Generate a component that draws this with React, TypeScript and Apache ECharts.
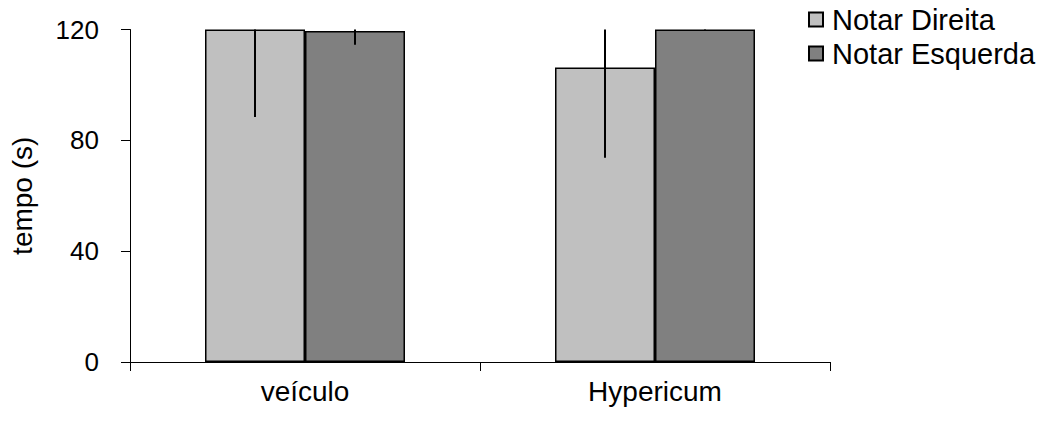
import React, { useEffect, useRef } from "react";
import * as echarts from "echarts";

const categories = ["veículo", "Hypericum"];
const seriesNames = ["Notar Direita", "Notar Esquerda"];
const direitaMeans = [120, 106.3];
const direitaErrors = [31.6, 32.6];
const esquerdaMeans = [119.5, 120];
const esquerdaErrors = [5, 0.4];
const yMin = 0;
const yMax = 120;
const yInterval = 40;

const FONT = "'Liberation Sans', Arial, sans-serif";

export default function App() {
  const ref = useRef<HTMLDivElement>(null);
  useEffect(() => {
    if (!ref.current) return;
    const chart = echarts.init(ref.current, undefined, { renderer: "svg" });
    const errData: any[] = [];
    direitaMeans.forEach((m, i) => errData.push([i, m, direitaErrors[i], 0]));
    esquerdaMeans.forEach((m, i) => errData.push([i, m, esquerdaErrors[i], 1]));
    const barFrac = 100 / 350;
    chart.setOption({
      animation: false,
      textStyle: { fontFamily: FONT, color: "#000" },
      grid: { left: 130, right: 217, top: 29.5, bottom: 63 },
      legend: {
        data: seriesNames,
        orient: "vertical",
        left: 803,
        top: 0,
        itemWidth: 14,
        itemHeight: 14,
        itemGap: 5,
        icon: "rect",
        textStyle: { fontFamily: FONT, fontSize: 29, color: "#000", padding: [0, 0, 0, 4] },
      },
      xAxis: {
        type: "category",
        data: categories,
        axisLine: { lineStyle: { color: "#000", width: 1 } },
        axisTick: { show: true, length: 9, lineStyle: { color: "#000" } },
        axisLabel: { fontFamily: FONT, fontSize: 28, color: "#000", margin: 15 },
      },
      yAxis: {
        type: "value",
        min: yMin,
        max: yMax,
        interval: yInterval,
        name: "tempo (s)",
        nameLocation: "middle",
        nameRotate: 90,
        nameGap: 94,
        nameTextStyle: { fontFamily: FONT, fontSize: 28, color: "#000" },
        splitLine: { show: false },
        axisLine: { show: true, lineStyle: { color: "#000", width: 1 } },
        axisTick: { show: true, length: 9, lineStyle: { color: "#000" } },
        axisLabel: { fontFamily: FONT, fontSize: 26, color: "#000", margin: 31 },
      },
      series: [
        {
          name: seriesNames[0],
          type: "bar",
          data: direitaMeans,
          barWidth: "28.57%",
          barGap: "0%",
          itemStyle: { color: "#c0c0c0", borderColor: "#000", borderWidth: 1.5 },
        },
        {
          name: seriesNames[1],
          type: "bar",
          data: esquerdaMeans,
          barWidth: "28.57%",
          barGap: "0%",
          itemStyle: { color: "#808080", borderColor: "#000", borderWidth: 1.5 },
        },
        {
          type: "custom",
          clip: true,
          z: 10,
          data: errData,
          renderItem: (params: any, api: any) => {
            const cat = api.value(0);
            const mean = api.value(1);
            const err = api.value(2);
            const s = api.value(3);
            const band = api.size([1, 0])[0];
            const bw = band * barFrac;
            const c = api.coord([cat, mean]);
            const x = c[0] + (s === 0 ? -0.5 : 0.5) * bw;
            const lo = api.coord([cat, Math.max(mean - err, yMin)])[1];
            const hi = api.coord([cat, Math.min(mean + err, yMax)])[1];
            return {
              type: "line",
              shape: { x1: x, y1: lo, x2: x, y2: hi - 1 },
              style: { stroke: "#000", lineWidth: 2 },
            };
          },
        },
      ],
    });
    return () => chart.dispose();
  }, []);
  return <div ref={ref} style={{ width: 1047, height: 425, margin: -8 }} />;
}
